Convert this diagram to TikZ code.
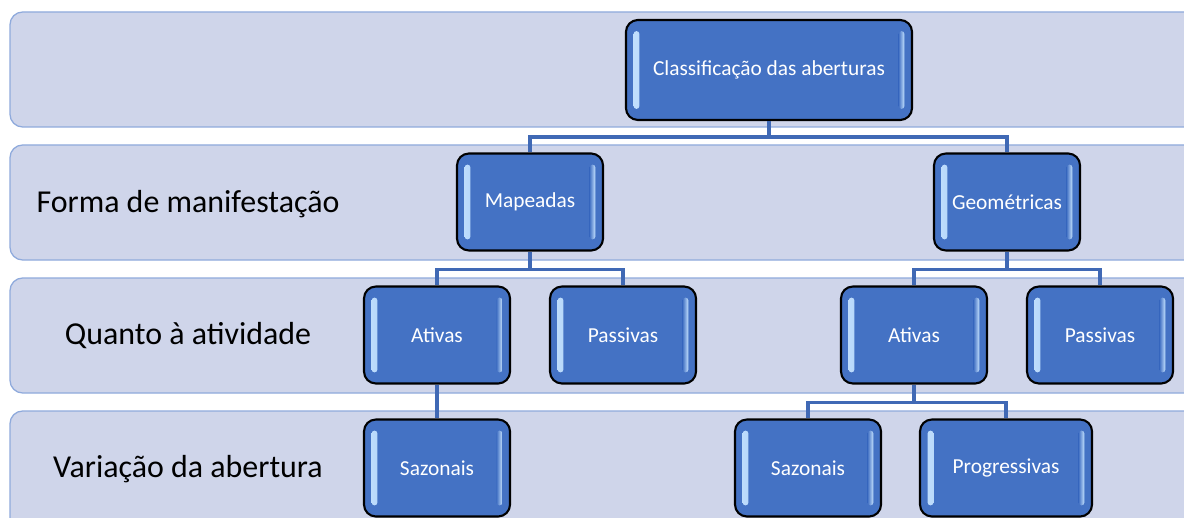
\documentclass[tikz,border=0pt]{standalone}
\usepackage{fontspec}
\setmainfont{Carlito}
\usepackage{tikz}

\begin{document}
\begin{tikzpicture}[x=0.025cm, y=-0.025cm,
  faixa/.style={fill=colFaixa, draw=colBorda, line width=0.9pt, rounded corners=9pt},
  caixa/.style={draw=black, line width=1.5pt, fill=colCaixa, rounded corners=8.5pt,
    text=white, font=\fontsize{15.2}{18}\selectfont,
    minimum width=3.65cm, minimum height=2.425cm,
    path picture={
      \shade[rounded corners=1.8pt, left color=colLuz, right color=colCaixa]
        ([xshift=5.5pt,yshift=-8pt]path picture bounding box.north west) rectangle
        ([xshift=9.5pt,yshift=8pt]path picture bounding box.south west);
      \shade[rounded corners=1.8pt, left color=colCaixa, right color=colLuz]
        ([xshift=-9.5pt,yshift=-8pt]path picture bounding box.north east) rectangle
        ([xshift=-5.5pt,yshift=8pt]path picture bounding box.south east);
    }},
  rotulo/.style={font=\fontsize{22.7}{27}\selectfont, text=black},
  ligacao/.style={draw=colLiga, line width=2.3pt}]

% Cores
\definecolor{colFaixa}{HTML}{CFD5EA}
\definecolor{colBorda}{HTML}{8FAADC}
\definecolor{colCaixa}{HTML}{4472C4}
\definecolor{colLuz}{HTML}{C4E2FF}
\definecolor{colLiga}{HTML}{4069B5}

% Area visivel
\useasboundingbox (0,0) rectangle (1184,518);
\clip (0,0) rectangle (1184,518);
\fill[white] (0,0) rectangle (1184,518);

% Faixas
\path[faixa] (10,12) rectangle (1215,127);
\path[faixa] (10,145) rectangle (1215,260);
\path[faixa] (10,278) rectangle (1215,393);
\path[faixa] (10,411) rectangle (1215,540);

% Rotulos das faixas
\node[rotulo] (forma) at (188,204) {Forma de manifestação};
\node[rotulo] (atividade) at (188,336) {Quanto à atividade};
\node[rotulo] (variacao) at (188,469) {Variação da abertura};

% Caixas
\node[caixa, minimum width=7.15cm, minimum height=2.5cm] (classif) at (769,70) {Classificação das aberturas};
\node[caixa] (mapeadas) at (530,202) {Mapeadas};
\node[caixa] (geometricas) at (1007,202) {Geométricas};
\node[caixa] (ativasM) at (437,335) {Ativas};
\node[caixa] (passivasM) at (623,335) {Passivas};
\node[caixa] (ativasG) at (914,335) {Ativas};
\node[caixa] (passivasG) at (1100,335) {Passivas};
\node[caixa] (sazonaisM) at (437,468) {Sazonais};
\node[caixa] (sazonaisG) at (808,468) {Sazonais};
\node[caixa, minimum width=4.3cm] (progressivas) at (1006,468) {Progressivas};

% Ligacoes
\draw[ligacao] (classif.south) -- ++(0,16) -| (mapeadas.north);
\draw[ligacao] (classif.south) -- ++(0,16) -| (geometricas.north);
\draw[ligacao] (mapeadas.south) -- ++(0,18) -| (ativasM.north);
\draw[ligacao] (mapeadas.south) -- ++(0,18) -| (passivasM.north);
\draw[ligacao] (geometricas.south) -- ++(0,18) -| (ativasG.north);
\draw[ligacao] (geometricas.south) -- ++(0,18) -| (passivasG.north);
\draw[ligacao] (ativasM.south) -- (sazonaisM.north);
\draw[ligacao] (ativasG.south) -- ++(0,18) -| (sazonaisG.north);
\draw[ligacao] (ativasG.south) -- ++(0,18) -| (progressivas.north);
\end{tikzpicture}
\end{document}
